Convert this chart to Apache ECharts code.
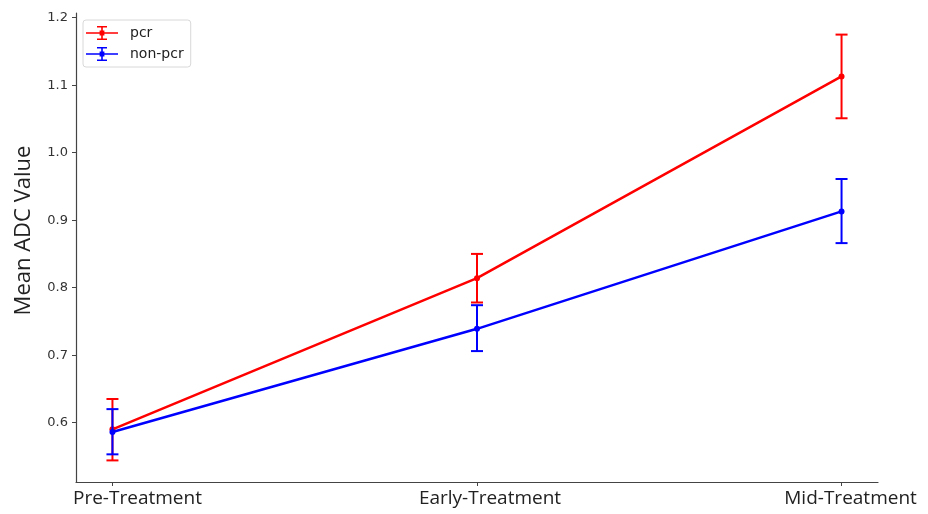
<!DOCTYPE html>
<html>
<head>
<meta charset="utf-8">
<script src="https://cdn.jsdelivr.net/npm/echarts@6/dist/echarts.min.js"></script>
<style>html,body{margin:0;padding:0;background:#fff}#c{width:928px;height:514px}</style>
</head>
<body>
<div id="c"></div>
<script>
const categories = ['Pre-Treatment', 'Early-Treatment', 'Mid-Treatment'];
const yTicks = [0.6, 0.7, 0.8, 0.9, 1.0, 1.1, 1.2];
const pcrMean = [0.590, 0.814, 1.113];
const pcrLow = [0.544, 0.778, 1.051];
const pcrHigh = [0.635, 0.850, 1.175];
const nonMean = [0.586, 0.739, 0.913];
const nonLow = [0.553, 0.706, 0.866];
const nonHigh = [0.620, 0.774, 0.961];

const chart = echarts.init(document.getElementById('c'), null, {renderer: 'canvas'});

function errItem(color) {
  return function (params, api) {
    const x = api.value(0);
    const lo = api.coord([x, api.value(1)]);
    const hi = api.coord([x, api.value(2)]);
    const hw = 6;
    const st = {stroke: color, lineWidth: 2};
    return {
      type: 'group',
      children: [
        {type: 'line', shape: {x1: lo[0], y1: lo[1], x2: hi[0], y2: hi[1]}, style: st},
        {type: 'line', shape: {x1: lo[0] - hw, y1: lo[1], x2: lo[0] + hw, y2: lo[1]}, style: st},
        {type: 'line', shape: {x1: hi[0] - hw, y1: hi[1], x2: hi[0] + hw, y2: hi[1]}, style: st}
      ]
    };
  };
}

const icon = 'path://M0,6.2L32,6.2L32,7.8L0,7.8Z M15.2,0L16.8,0L16.8,14L15.2,14Z M11,0L21,0L21,1.4L11,1.4Z M11,12.6L21,12.6L21,14L11,14Z M13.6,4.6L18.4,4.6L18.4,9.4L13.6,9.4Z';
const labelFont = '"Open Sans", sans-serif';

const option = {
  animation: false,
  grid: {left: 76, right: 50, top: 13, bottom: 32, containLabel: false},
  legend: {
    left: 83, top: 20, orient: 'vertical',
    data: [{name: 'pcr', icon: icon, itemStyle: {color: '#ff0000'}}, {name: 'non-pcr', icon: icon, itemStyle: {color: '#0000ff'}}],
    itemWidth: 32, itemHeight: 14, itemGap: 7,
    borderColor: '#d8d8d8', borderWidth: 1, borderRadius: 3,
    padding: [6, 7, 6, 3],
    textStyle: {fontFamily: 'DejaVu Sans', fontSize: 14, color: '#222', padding: [0, 0, 0, 7]}
  },
  xAxis: {
    type: 'value', min: -0.1, max: 2.1,
    splitLine: {show: false},
    axisLine: {show: true, onZero: false, lineStyle: {color: '#444', width: 1.2}},
    axisTick: {show: true, length: 4, customValues: [0, 1, 2], lineStyle: {color: '#444'}},
    axisLabel: {
      customValues: [0, 1, 2], margin: 7,
      formatter: v => { const i = Math.round(v); return '{l' + i + '|' + categories[i] + '}'; },
      rich: {
        l0: {padding: [0, 0, 0, 50], fontFamily: labelFont, fontSize: 19, color: '#222'},
        l1: {padding: [0, 0, 0, 26], fontFamily: labelFont, fontSize: 19, color: '#222'},
        l2: {padding: [0, 0, 0, 18], fontFamily: labelFont, fontSize: 19, color: '#222'}
      },
      fontFamily: labelFont, fontSize: 19, color: '#222'
    }
  },
  yAxis: {
    type: 'value', min: 0.512, max: 1.207,
    name: 'Mean ADC Value', nameLocation: 'middle', nameRotate: 90, nameGap: 41,
    nameTextStyle: {fontFamily: labelFont, fontSize: 22, color: '#222', padding: [0, 0, 0, 34]},
    splitLine: {show: false},
    axisLine: {show: true, onZero: false, lineStyle: {color: '#444', width: 1.2}},
    axisTick: {show: true, length: 4, customValues: yTicks, lineStyle: {color: '#444'}},
    axisLabel: {
      customValues: yTicks, margin: 8,
      formatter: v => v.toFixed(1),
      fontFamily: 'DejaVu Sans', fontSize: 13, color: '#333'
    }
  },
  series: [
    {
      name: 'pcr', type: 'line',
      data: pcrMean.map((v, i) => [i, v]),
      lineStyle: {color: '#ff0000', width: 2.5},
      itemStyle: {color: '#ff0000'},
      symbol: 'circle', symbolSize: 6, z: 3
    },
    {
      name: 'pcr', type: 'custom',
      data: pcrLow.map((v, i) => [i, v, pcrHigh[i]]),
      renderItem: errItem('#ff0000'), z: 3
    },
    {
      name: 'non-pcr', type: 'line',
      data: nonMean.map((v, i) => [i, v]),
      lineStyle: {color: '#0000ff', width: 2.5},
      itemStyle: {color: '#0000ff'},
      symbol: 'circle', symbolSize: 6, z: 4
    },
    {
      name: 'non-pcr', type: 'custom',
      data: nonLow.map((v, i) => [i, v, nonHigh[i]]),
      renderItem: errItem('#0000ff'), z: 4
    }
  ]
};
chart.setOption(option);
</script>
</body>
</html>
